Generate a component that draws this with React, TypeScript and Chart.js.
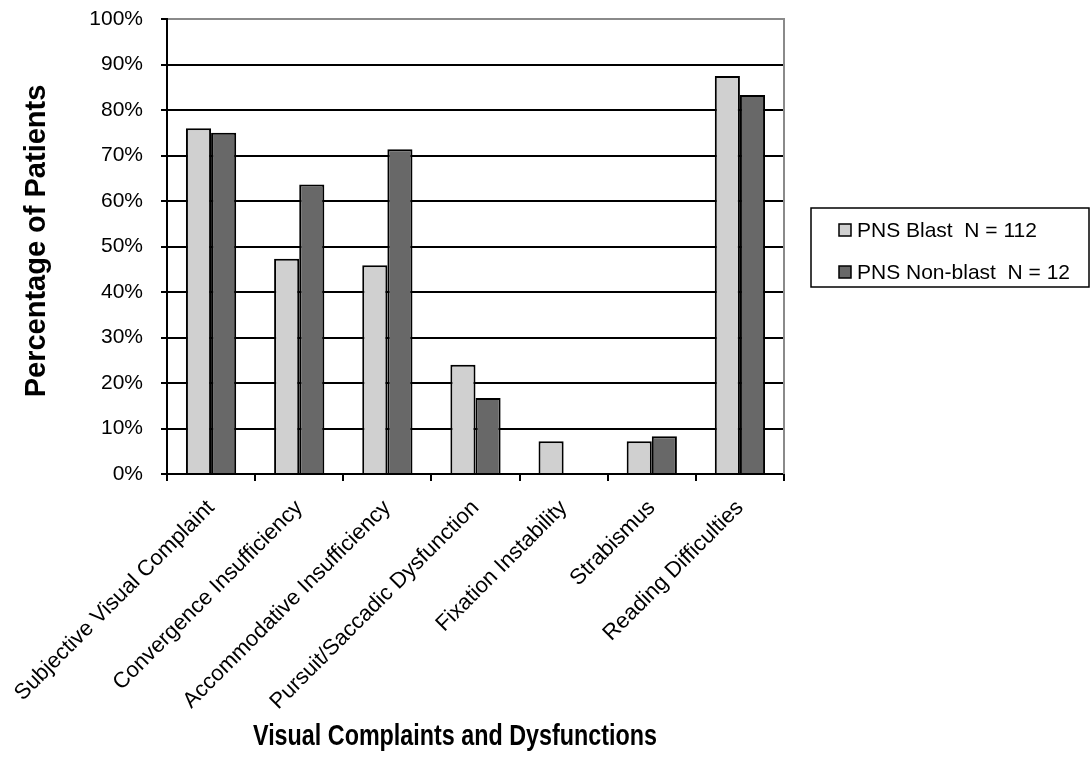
import React, { useEffect, useRef } from "react";
import { Chart, registerables } from "chart.js";

Chart.register(...registerables);

const categories = [
  "Subjective Visual Complaint",
  "Convergence Insufficiency",
  "Accommodative Insufficiency",
  "Pursuit/Saccadic Dysfunction",
  "Fixation Instability",
  "Strabismus",
  "Reading Difficulties",
];
const blastValues = [76, 47.3, 45.9, 24, 7.2, 7.2, 87.5];
const nonBlastValues = [75, 63.6, 71.4, 16.7, 0, 8.3, 83.3];
const seriesNames = ["PNS Blast  N = 112", "PNS Non-blast  N = 12"];
const seriesColors = ["#d0d0d0", "#686868"];
const yTitle = "Percentage of Patients";
const xTitle = "Visual Complaints and Dysfunctions";

const FONT = "'Liberation Sans', Arial, sans-serif";

const overlay = {
  id: "overlay",
  afterDraw(chart: any) {
    const ctx = chart.ctx as CanvasRenderingContext2D;
    const { right, top, bottom } = chart.chartArea;
    ctx.save();
    // right border of plot area
    ctx.strokeStyle = "#8a8a8a";
    ctx.lineWidth = 2;
    ctx.beginPath();
    ctx.moveTo(right, top - 1);
    ctx.lineTo(right, bottom);
    ctx.stroke();

    // y title
    ctx.fillStyle = "#000";
    ctx.font = `bold 29px ${FONT}`;
    ctx.textAlign = "center";
    ctx.textBaseline = "middle";
    ctx.save();
    ctx.translate(37, 241);
    ctx.rotate(-Math.PI / 2);
    ctx.fillText(yTitle, 0, 0);
    ctx.restore();

    // x title (condensed)
    ctx.save();
    ctx.font = `bold 29px ${FONT}`;
    const w = ctx.measureText(xTitle).width;
    const target = 404;
    ctx.translate(455, 737);
    ctx.scale(target / w, 1);
    ctx.fillText(xTitle, 0, 0);
    ctx.restore();

    // legend
    const bx = 811, by = 208, bw = 278, bh = 79;
    ctx.strokeStyle = "#000";
    ctx.lineWidth = 1.5;
    ctx.strokeRect(bx, by, bw, bh);
    ctx.font = `21px ${FONT}`;
    ctx.textAlign = "left";
    const rows = [230, 272];
    seriesNames.forEach((name, i) => {
      const cy = rows[i];
      ctx.fillStyle = seriesColors[i];
      ctx.fillRect(839, cy - 6, 12, 12);
      ctx.strokeStyle = "#000";
      ctx.lineWidth = 1.5;
      ctx.strokeRect(839, cy - 6, 12, 12);
      ctx.fillStyle = "#000";
      ctx.fillText(name, 857, cy + 1);
    });
    ctx.restore();
  },
};

export default function App() {
  const ref = useRef<HTMLCanvasElement | null>(null);
  useEffect(() => {
    if (!ref.current) return;
    const chart = new Chart(ref.current, {
      type: "bar",
      data: {
        labels: categories,
        datasets: [
          {
            label: seriesNames[0],
            data: blastValues,
            backgroundColor: seriesColors[0],
            borderColor: "#000",
            borderWidth: 2,
            borderSkipped: "bottom",
          },
          {
            label: seriesNames[1],
            data: nonBlastValues,
            backgroundColor: seriesColors[1],
            borderColor: "#000",
            borderWidth: 2,
            borderSkipped: "bottom",
          },
        ],
      },
      options: {
        animation: false,
        responsive: true,
        maintainAspectRatio: false,
        layout: { padding: { top: 19, right: 307, left: 0, bottom: 0 } },
        datasets: {
          bar: { categoryPercentage: 0.57, barPercentage: 1 },
        },
        plugins: {
          legend: { display: false },
          tooltip: { enabled: false },
        },
        scales: {
          x: {
            afterFit: (s: any) => {
              s.height = 290;
              s.paddingLeft = 0;
              s.paddingRight = 0;
            },
            grid: {
              offset: true,
              drawOnChartArea: false,
              drawTicks: true,
              tickLength: 7,
              color: "#000",
              lineWidth: 2,
            },
            border: { color: "#000", width: 2 },
            ticks: {
              autoSkip: false,
              minRotation: 45,
              maxRotation: 45,
              color: "#000",
              padding: 14,
              font: { family: FONT, size: 22 },
            },
          },
          y: {
            min: 0,
            max: 100,
            afterFit: (s: any) => {
              s.width = 167;
              s.paddingTop = 0;
              s.paddingBottom = 0;
            },
            grid: {
              color: (c: any) => (c.tick && c.tick.value === 100 ? "#8a8a8a" : "#000"),
              tickColor: "#000",
              lineWidth: 2,
              tickLength: 6,
            },
            border: { color: "#000", width: 2 },
            ticks: {
              stepSize: 10,
              color: "#000",
              padding: 18,
              font: { family: FONT, size: 21 },
              callback: (v: any) => `${v}%`,
            },
          },
        },
      },
      plugins: [overlay],
    });
    return () => chart.destroy();
  }, []);
  return (
    <div style={{ position: "absolute", left: 0, top: 0, width: 1091, height: 764, background: "#fff" }}>
      <canvas ref={ref} />
    </div>
  );
}
